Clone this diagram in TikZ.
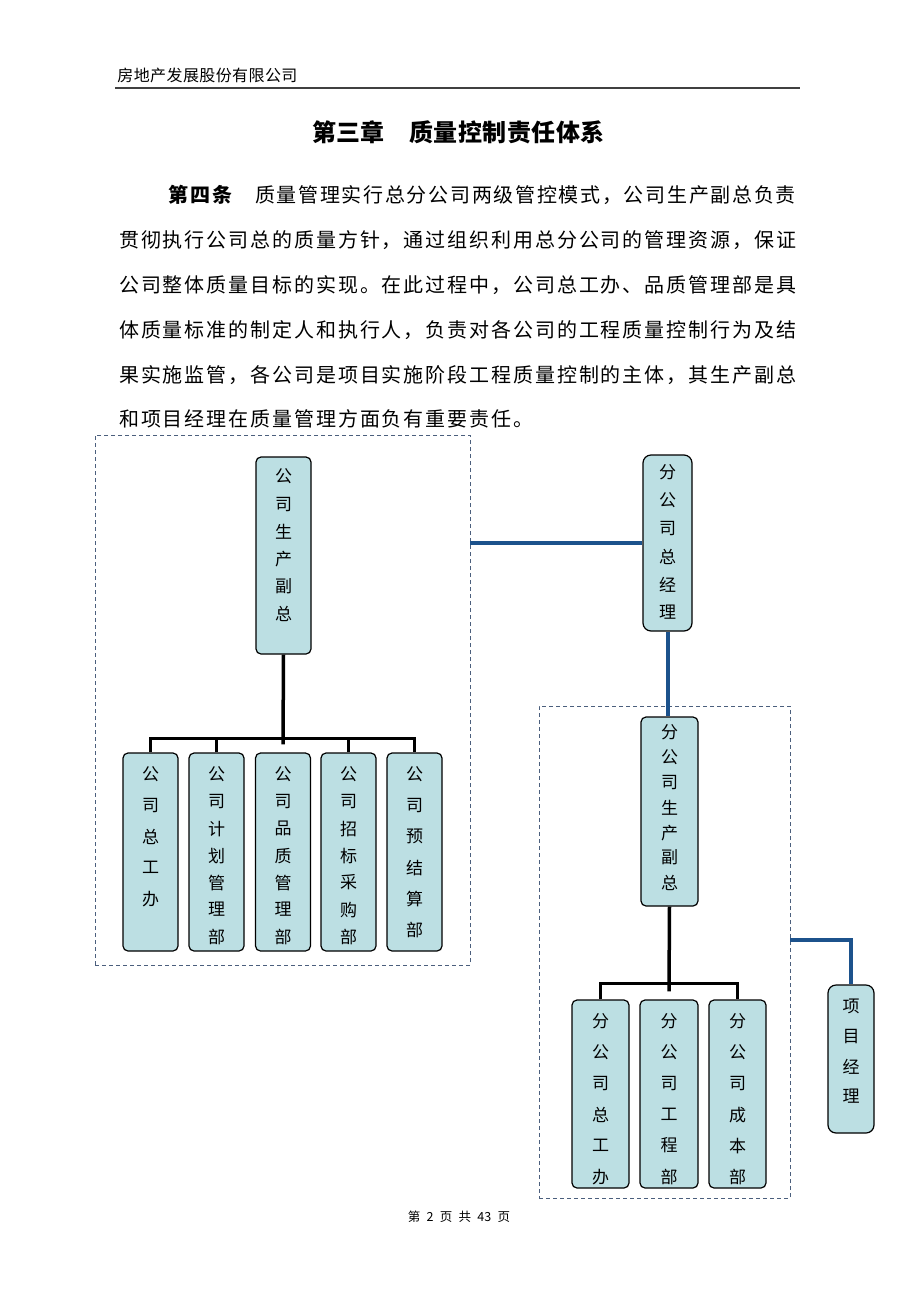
\documentclass[tikz,border=0pt]{standalone}
\usepackage{fontspec}
\newfontfamily\cjk{Noto Sans CJK SC}
\definecolor{boxfill}{RGB}{188,223,227}
\definecolor{linkblue}{RGB}{28,82,140}
\definecolor{dashcol}{RGB}{75,95,125}
\makeatletter
\newdimen\VSpitch
\newdimen\HJw
\newcommand\VStack[2]{\VSpitch=#1pt\relax\vbox{\offinterlineskip\VS@loop#2\relax}}
\def\VS@loop#1{\ifx#1\relax\else\hbox to 1.2em{\hss\vbox to\VSpitch{\vss\hbox{#1}\vss}\hss}\expandafter\VS@loop\fi}
\newcommand\HJ[2]{\HJw=#1pt\relax\HJ@loop#2\relax}
\def\HJ@loop#1{\ifx#1\relax\else\hbox to\HJw{\hss#1\hss}\expandafter\HJ@loop\fi}
\makeatother
\tikzset{
  txt/.style={inner sep=0pt, anchor=west},
  bodytxt/.style={txt, font=\cjk\fontsize{20}{20}\selectfont},
  vtxt/.style={inner sep=0pt, font=\cjk\fontsize{17}{17}\selectfont},
  sbox/.style={draw=black, line width=1.2pt, fill=boxfill, rounded corners=5pt, inner sep=0pt},
  rbox/.style={draw=black, line width=1.2pt, fill=boxfill, rounded corners=8pt, inner sep=0pt},
  group/.style={draw=dashcol, line width=0.9pt, dash pattern=on 4pt off 3pt, inner sep=0pt},
  tree/.style={draw=black, line width=3.5pt},
  bluelink/.style={draw=linkblue, line width=4pt},
}
\newcommand\VBox[9]{%
  \node[#6, minimum width=#4pt, minimum height=#5pt] (#1) at (#2,#3) {};
  \node[vtxt, anchor=north] (#1t) at ([yshift={(#8/2-#7)*1pt}]#1.north) {\VStack{#8}{#9}};
}
\begin{document}
\begin{tikzpicture}[x=1pt,y=-1pt]
\useasboundingbox (0,0) rectangle (920,1302);
\fill[white] (0,0) rectangle (920,1302);

% header
\node[txt, font=\cjk\fontsize{16}{16}\selectfont] (hdr) at (117,75) {\HJ{16.4}{房地产发展股份有限公司}};
\coordinate (rl) at (115,88);
\coordinate (rr) at (800,88);
\draw[line width=1.6pt, black!75] (rl) -- (rr);

% title
\node[txt, font=\cjk\bfseries\fontsize{24}{24}\selectfont] (t1) at (312,132) {\HJ{24.3}{第三章}};
\node[txt, font=\cjk\bfseries\fontsize{24}{24}\selectfont] (t2) at (409,132) {\HJ{24.5}{质量控制责任体系}};

% body
\node[txt, font=\cjk\bfseries\fontsize{20}{20}\selectfont] (b0) at (167,195) {\HJ{22}{第四条}};
\node[bodytxt] (b1) at (254,195) {\HJ{21.7}{质量管理实行总分公司两级管控模式，公司生产副总负责}};
\node[bodytxt] (b2) at (118,240) {\HJ{21.9}{贯彻执行公司总的质量方针，通过组织利用总分公司的管理资源，保证}};
\node[bodytxt] (b3) at (118,285) {\HJ{21.9}{公司整体质量目标的实现。在此过程中，公司总工办、品质管理部是具}};
\node[bodytxt] (b4) at (118,330) {\HJ{21.9}{体质量标准的制定人和执行人，负责对各公司的工程质量控制行为及结}};
\node[bodytxt] (b5) at (118,375) {\HJ{21.9}{果实施监管，各公司是项目实施阶段工程质量控制的主体，其生产副总}};
\node[bodytxt] (b6) at (118,419) {\HJ{21.9}{和项目经理在质量管理方面负有重要责任。}};

% groups
\node[group, minimum width=375pt, minimum height=530pt] (grpA) at (282.5,700) {};
\node[group, minimum width=251pt, minimum height=492pt] (grpB) at (664.5,952) {};
\coordinate (pmc) at (851,940);

% boxes
\VBox{top}{283.5}{555.5}{55}{197}{sbox}{20}{27.5}{公司生产副总}
\VBox{c1}{150.5}{852}{55}{198}{sbox}{22}{31}{公司总工办}
\VBox{c2}{216.5}{852}{55}{198}{sbox}{22}{27}{公司计划管理部}
\VBox{c3}{283}{852}{55}{198}{sbox}{22}{27}{公司品质管理部}
\VBox{c4}{348.5}{852}{55}{198}{sbox}{22}{27}{公司招标采购部}
\VBox{c5}{414.5}{852}{55}{198}{sbox}{22}{31}{公司预结算部}
\VBox{gm}{667.5}{543}{49}{176}{rbox}{18}{28}{分公司总经理}
\VBox{sp}{669.5}{811.5}{57}{189}{sbox}{16}{25}{分公司生产副总}
\VBox{r1}{600.5}{1094}{57}{188}{sbox}{22}{31}{分公司总工办}
\VBox{r2}{669}{1094}{58}{188}{sbox}{22}{31}{分公司工程部}
\VBox{r3}{737.5}{1094}{57}{188}{sbox}{22}{31}{分公司成本部}
\VBox{pm}{851}{1059}{46}{148}{rbox}{22}{30}{项目经理}

% connectors
\draw[bluelink] (gm.west -| grpA.east) -- (gm.west);
\draw[bluelink] (gm.south) -- (gm.south |- sp.north);
\draw[bluelink] (grpB.east |- pmc) -- (pmc) -- (pm.north);

\draw[tree] (top.south) -- ([yshift=8pt]c3.north);
\draw[tree] (c1.north) -- ++(0,-14) -| (c5.north);
\draw[tree] (c2.north) -- ++(0,-14);
\draw[tree] (c4.north) -- ++(0,-14);

\draw[tree] (sp.south) -- ([yshift=8pt]r2.north);
\draw[tree] (r1.north) -- ++(0,-16) -| (r3.north);

% footer
\node[inner sep=0pt, font=\cjk\fontsize{12.5}{12.5}\selectfont] (ftr) at (459,1217) {第\hspace{0.5em}2\hspace{0.5em}页\hspace{0.5em}共\hspace{0.5em}43\hspace{0.5em}页};
\end{tikzpicture}
\end{document}
